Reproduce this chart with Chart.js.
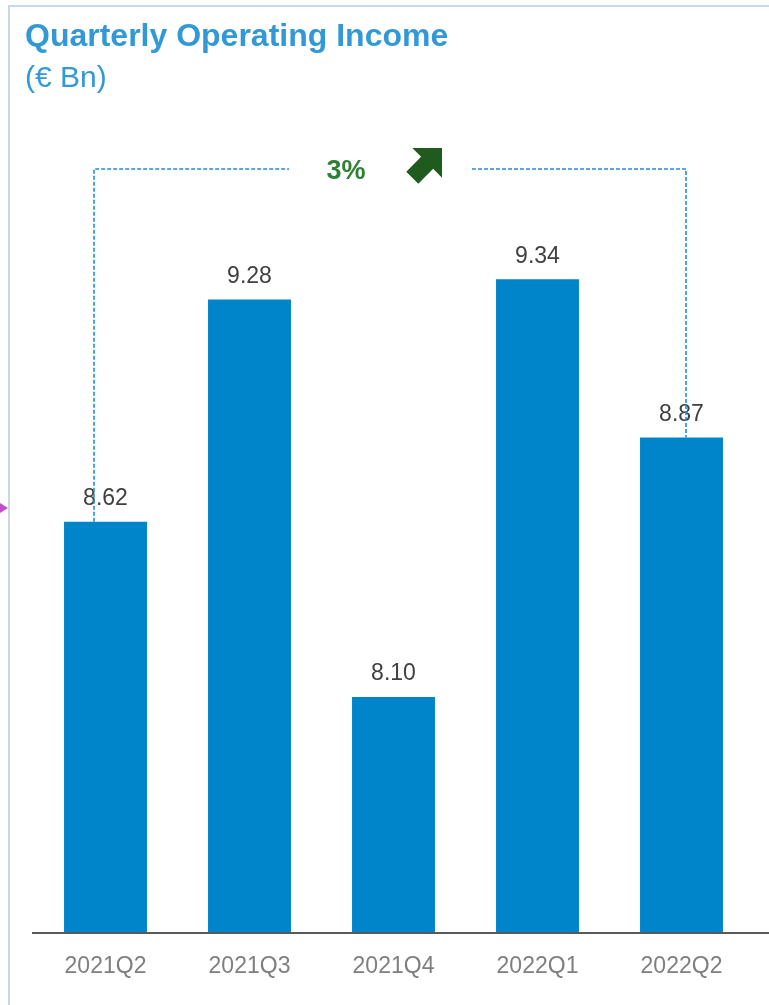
<!DOCTYPE html>
<html>
<head>
<meta charset="utf-8">
<script src="https://cdn.jsdelivr.net/npm/chart.js@4"></script>
<style>
  body { margin: 0; background: #fff; font-family: "Liberation Sans", Arial, sans-serif; }
  #wrap { position: relative; width: 769px; height: 1005px; overflow: hidden; }
  #chart { position: absolute; left: 0; top: 0; }
  .title { position: absolute; left: 25px; top: 17px; font-size: 32px; font-weight: bold; color: #3399D6; white-space: nowrap; }
  .unit { position: absolute; left: 25px; top: 60px; font-size: 30px; color: #3399D6; white-space: nowrap; }
  .growth { position: absolute; left: 306px; top: 155px; width: 80px; text-align: center; font-size: 27px; font-weight: bold; color: #2E8034; }
  .frame-top { position: absolute; left: 9px; top: 5px; width: 760px; height: 2px; background: #C8D7EC; }
  .frame-left { position: absolute; left: 8px; top: 5px; width: 2px; height: 1000px; background: #C8D7EC; }
  .marker { position: absolute; left: 0; top: 503px; width: 0; height: 0; border-top: 5px solid transparent; border-bottom: 5px solid transparent; border-left: 8px solid #C44CCB; }
</style>
</head>
<body>
<div id="wrap">
  <div class="frame-top"></div>
  <div class="frame-left"></div>
  <div class="marker"></div>
  <canvas id="chart" width="769" height="1005"></canvas>
  <div class="title">Quarterly Operating Income</div>
  <div class="unit">(€ Bn)</div>
  <div class="growth">3%</div>
</div>
<script>
var quarters = ['2021Q2', '2021Q3', '2021Q4', '2022Q1', '2022Q2'];
var income = [8.62, 9.28, 8.10, 9.34, 8.87];

// value labels above bars
var barLabels = {
  id: 'barLabels',
  afterDatasetsDraw: function(chart) {
    var ctx = chart.ctx;
    var meta = chart.getDatasetMeta(0);
    ctx.save();
    ctx.font = '23px "Liberation Sans", Arial, sans-serif';
    ctx.fillStyle = '#404040';
    ctx.textAlign = 'center';
    ctx.textBaseline = 'middle';
    meta.data.forEach(function(bar, i) {
      ctx.fillText(income[i].toFixed(2), bar.x, bar.y - 23);
    });
    ctx.restore();
  }
};

// dashed bracket between first and last quarter, arrow, axis line
var bracket = {
  id: 'bracket',
  afterDraw: function(chart) {
    var ctx = chart.ctx;
    var meta = chart.getDatasetMeta(0);
    var first = meta.data[0], last = meta.data[meta.data.length - 1];
    var lx = first.x - 11.5, rx = last.x + 4.5;
    var mid = (first.x + last.x) / 2;
    var y = chart.chartArea.top - 31;

    ctx.save();
    ctx.strokeStyle = '#1E8FDA';
    ctx.lineWidth = 1.6;
    ctx.setLineDash([4, 2]);
    ctx.beginPath();
    ctx.moveTo(lx, first.y); ctx.lineTo(lx, y); ctx.lineTo(mid - 104.5, y);
    ctx.moveTo(mid + 78.5, y); ctx.lineTo(rx, y); ctx.lineTo(rx, last.y);
    ctx.stroke();
    ctx.restore();

    // up-right arrow
    ctx.save();
    ctx.translate(mid + 48.5, y - 21);
    ctx.rotate(-Math.PI / 4);
    ctx.fillStyle = '#1F5A1F';
    ctx.beginPath();
    ctx.moveTo(0, 0);
    ctx.lineTo(-21, -21);
    ctx.lineTo(-21, -8.5);
    ctx.lineTo(-42, -8.5);
    ctx.lineTo(-42, 8.5);
    ctx.lineTo(-21, 8.5);
    ctx.lineTo(-21, 21);
    ctx.closePath();
    ctx.fill();
    ctx.restore();

    // baseline
    ctx.save();
    ctx.strokeStyle = '#595959';
    ctx.lineWidth = 2;
    ctx.beginPath();
    ctx.moveTo(chart.chartArea.left - 1.5, chart.chartArea.bottom);
    ctx.lineTo(chart.width, chart.chartArea.bottom);
    ctx.stroke();
    ctx.restore();
  }
};

new Chart(document.getElementById('chart').getContext('2d'), {
  type: 'bar',
  data: {
    labels: quarters,
    datasets: [{
      data: income,
      backgroundColor: '#0085CA',
      categoryPercentage: 1,
      barPercentage: 0.576
    }]
  },
  options: {
    responsive: false,
    animation: false,
    layout: { padding: { left: 33.5, right: 15.5, top: 200, bottom: 0 } },
    scales: {
      x: {
        grid: { display: false, drawTicks: false },
        border: { display: false },
        ticks: {
          color: '#7F7F7F',
          padding: 20,
          font: { family: '"Liberation Sans", Arial, sans-serif', size: 23 }
        },
        afterFit: function(scale) { scale.height = 72; }
      },
      y: {
        display: false,
        min: 7.4,
        max: 9.575
      }
    },
    plugins: {
      legend: { display: false },
      tooltip: { enabled: false }
    }
  },
  plugins: [barLabels, bracket]
});
</script>
</body>
</html>
